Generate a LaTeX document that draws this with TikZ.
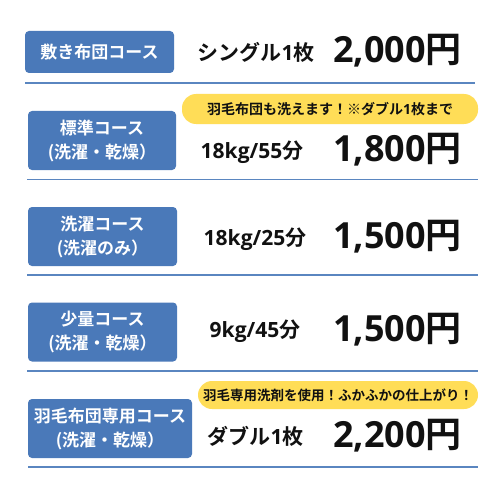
\documentclass[tikz,border=0pt]{standalone}
\usepackage{fontspec}
\setmainfont{Noto Sans CJK JP}[BoldFont={* Bold}]
\newfontfamily\latfont{Open Sans}
\newcommand\latn[1]{{\latfont\bfseries #1}}
\definecolor{cblue}{HTML}{4A79B9}
\definecolor{lblue}{HTML}{5A86C0}
\definecolor{cyel}{HTML}{FFDD57}
\definecolor{ctext}{HTML}{111111}
\begin{document}
\begin{tikzpicture}[x=1pt,y=-1pt,
  course/.style={fill=cblue,rounded corners=4pt,text=white,align=center,inner sep=0pt,
     font=\fontsize{17}{24}\selectfont\bfseries},
  pill/.style={fill=cyel,rounded corners=14pt,inner sep=0pt,text=ctext,
     font=\fontsize{14}{16}\selectfont\bfseries},
  unit/.style={inner sep=0pt,text=ctext,font=\fontsize{21}{22}\selectfont\bfseries},
  price/.style={inner sep=0pt,text=ctext,font=\fontsize{36}{38}\selectfont\bfseries},
  sep/.style={draw=lblue,line width=1.6pt}]
\useasboundingbox (0,0) rectangle (500,500);
\fill[white] (0,0) rectangle (500,500);
% row 1
\node[course,minimum width=149pt,minimum height=42pt] (c1) at (99.5,52) {敷き布団コース};
\node[unit] (u1) at (256,52) {シングル\latn{1}枚};
\node[price] (p1) at (397.5,51) {\latn{2,000}円};
\coordinate (l1a) at (25,83); \coordinate (l1b) at (475,83);
\draw[sep] (l1a) -- (l1b);
% row 2
\node[pill,minimum width=296pt,minimum height=30pt] (y2) at (330,109) {羽毛布団も洗えます！※ダブル\latn{1}枚まで};
\node[course,minimum width=148pt,minimum height=59pt] (c2) at (102,140.5) {標準コース\\(洗濯・乾燥）};
\node[unit] (u2) at (252,152) {\latn{18kg/55}分};
\node[price] (p2) at (397.5,150) {\latn{1,800}円};
\coordinate (l2a) at (27,179.5); \coordinate (l2b) at (478,179.5);
\draw[sep] (l2a) -- (l2b);
% row 3
\node[course,minimum width=149pt,minimum height=59pt] (c3) at (102.5,236.5) {洗濯コース\\(洗濯のみ）};
\node[unit] (u3) at (255,239) {\latn{18kg/25}分};
\node[price] (p3) at (397.5,237) {\latn{1,500}円};
\coordinate (l3a) at (27,275); \coordinate (l3b) at (478,275);
\draw[sep] (l3a) -- (l3b);
% row 4
\node[course,minimum width=149pt,minimum height=59pt] (c4) at (102.5,332) {少量コース\\(洗濯・乾燥）};
\node[unit] (u4) at (255,331) {\latn{9kg/45}分};
\node[price] (p4) at (397.5,330) {\latn{1,500}円};
\coordinate (l4a) at (27,371); \coordinate (l4b) at (478,371);
\draw[sep] (l4a) -- (l4b);
% row 5
\node[pill,minimum width=280pt,minimum height=28pt,font=\fontsize{13.5}{16}\selectfont\bfseries] (y5) at (338,395) {羽毛専用洗剤を使用！ふかふかの仕上がり！};
\node[course,minimum width=164pt,minimum height=59pt] (c5) at (110,428.5) {羽毛布団専用コース\\(洗濯・乾燥）};
\node[unit] (u5) at (255.5,436) {ダブル\latn{1}枚};
\node[price] (p5) at (397.5,436) {\latn{2,200}円};
\coordinate (l5a) at (28,467); \coordinate (l5b) at (478,467);
\draw[sep] (l5a) -- (l5b);
\end{tikzpicture}
\end{document}
